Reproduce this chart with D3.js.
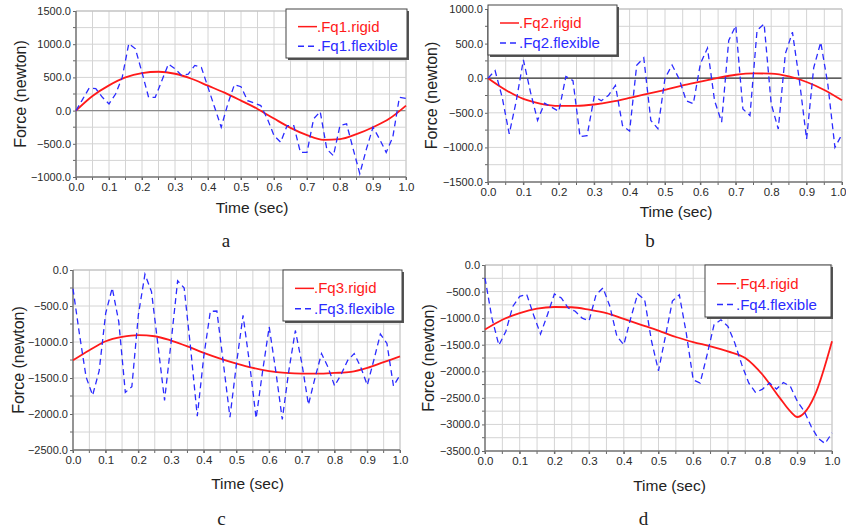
<!DOCTYPE html>
<html>
<head>
<meta charset="utf-8">
<script src="https://cdn.jsdelivr.net/npm/d3@7"></script>
<style>
  body { margin: 0; background: #fff; }
  svg { display: block; font-family: "Liberation Sans", Arial, sans-serif; }
</style>
</head>
<body>
<svg id="chart" width="846" height="531"></svg>
<script>
// time samples of the flexible runs (every 0.02 s)
const tFlex = [0.00, 0.02, 0.04, 0.06, 0.08, 0.10, 0.12, 0.14, 0.16, 0.18,
  0.20, 0.22, 0.24, 0.26, 0.28, 0.30, 0.32, 0.34, 0.36, 0.38,
  0.40, 0.42, 0.44, 0.46, 0.48, 0.50, 0.52, 0.54, 0.56, 0.58,
  0.60, 0.62, 0.64, 0.66, 0.68, 0.70, 0.72, 0.74, 0.76, 0.78,
  0.80, 0.82, 0.84, 0.86, 0.88, 0.90, 0.92, 0.94, 0.96, 0.98, 1.00];

// time samples of the rigid runs
const tRigid = [0.00, 0.05, 0.10, 0.15, 0.20, 0.25, 0.30, 0.35, 0.40, 0.45,
  0.50, 0.55, 0.60, 0.65, 0.70, 0.75, 0.80, 0.85, 0.90, 0.95, 1.00];
const tRigid4 = [0.00, 0.05, 0.10, 0.15, 0.20, 0.25, 0.30, 0.35, 0.40, 0.45,
  0.50, 0.55, 0.60, 0.65, 0.70, 0.75, 0.80, 0.85, 0.88, 0.90, 0.92, 0.95, 1.00];

const fq1Rigid = [0, 220, 380, 500, 565, 585, 555, 480, 375, 270,
  150, 25, -120, -260, -370, -440, -430, -355, -250, -120, 75];
const fq1Flex = [0, 170, 340, 330, 200, 100, 250, 500, 1010, 930,
  575, 200, 200, 450, 700, 630, 530, 550, 680, 650,
  350, 50, -250, 100, 390, 360, 150, 115, 75, -125,
  -375, -475, -225, -225, -630, -630, -125, -15, -580, -680,
  -225, -200, -580, -950, -580, -250, -430, -630, -400, 200, 185];

const fq2Rigid = [0, -170, -300, -370, -400, -400, -380, -340, -285, -225,
  -170, -105, -50, 5, 50, 70, 65, 25, -55, -170, -320];
const fq2Flex = [0, 110, -275, -805, -325, 265, -200, -610, -360, -420,
  -480, 25, -35, -845, -830, -265, -325, -250, -105, -685,
  -765, 185, 295, -610, -730, 0, 190, -10, -325, -370,
  210, 435, -325, -635, 545, 760, -445, -540, 690, 785,
  -370, -735, 355, 665, -45, -880, 150, 520, -90, -1000, -810];

const fq3Rigid = [-1255, -1115, -990, -930, -905, -920, -980, -1060, -1150, -1230,
  -1300, -1360, -1405, -1430, -1440, -1440, -1430, -1415, -1360, -1280, -1200];
const fq3Flex = [-260, -900, -1485, -1740, -1400, -600, -250, -720, -1700, -1620,
  -620, -60, -300, -1050, -1810, -1000, -150, -250, -1100, -2030,
  -1200, -575, -570, -1300, -2045, -1300, -630, -1300, -2060, -1400,
  -790, -1400, -2075, -1400, -840, -1300, -1870, -1500, -1160, -1350,
  -1610, -1450, -1255, -1160, -1350, -1600, -1250, -890, -1020, -1610, -1460];

const fq4Rigid = [-1215, -1030, -905, -820, -790, -795, -840, -905, -1015, -1125,
  -1235, -1355, -1450, -1530, -1625, -1750, -2065, -2505, -2755, -2860,
  -2785, -2460, -1435];
const fq4Flex = [-245, -1000, -1510, -1250, -780, -590, -550, -940, -1300, -935,
  -545, -620, -810, -870, -1000, -1050, -560, -430, -780, -1340,
  -1500, -1000, -545, -650, -1435, -1990, -1340, -680, -560, -1280,
  -2160, -2220, -1690, -1125, -1030, -1155, -1470, -1875, -2220, -2400,
  -2335, -2220, -2335, -2210, -2285, -2565, -2750, -3040, -3260, -3360, -3160];

const xTicks = [0.0, 0.1, 0.2, 0.3, 0.4, 0.5, 0.6, 0.7, 0.8, 0.9, 1.0];

const panels = [
  { name: "Fq1", letter: "a", rigid: fq1Rigid, tr: tRigid, flex: fq1Flex,
    yDomain: [-1000, 1500], box: { x0: 76, x1: 406, y0: 11, y1: 177 },
    zeroColor: "#8a8a8a",
    legend: { x: 286, y: 9, w: 121, h: 49 }, timeY: 213, forceX: 20, letterY: 247 },
  { name: "Fq2", letter: "b", rigid: fq2Rigid, tr: tRigid, flex: fq2Flex,
    yDomain: [-1500, 1000], box: { x0: 488, x1: 842, y0: 9, y1: 182 },
    zeroColor: "#333",
    legend: { x: 488, y: 5, w: 129, h: 50 }, timeY: 217, forceX: 431, letterY: 247 },
  { name: "Fq3", letter: "c", rigid: fq3Rigid, tr: tRigid, flex: fq3Flex,
    yDomain: [-2500, 0], box: { x0: 73, x1: 400, y0: 270, y1: 450 },
    zeroColor: null,
    legend: { x: 283, y: 270, w: 119, h: 51 }, timeY: 489, forceX: 18, letterY: 525 },
  { name: "Fq4", letter: "d", rigid: fq4Rigid, tr: tRigid4, flex: fq4Flex,
    yDomain: [-3500, 0], box: { x0: 485, x1: 832, y0: 265, y1: 451 },
    zeroColor: null,
    legend: { x: 705, y: 265, w: 126, h: 52 }, timeY: 491, forceX: 428, letterY: 525 }
];

const svg = d3.select("#chart");
const fmt = d3.format(".1f");

panels.forEach(drawPanel);

function drawPanel(p) {
  const b = p.box;
  const g = svg.append("g");

  const x = d3.scaleLinear().domain([0, 1]).range([b.x0, b.x1]);
  const y = d3.scaleLinear().domain(p.yDomain).range([b.y1, b.y0]);

  const xGrid = d3.range(0, 1.0001, 0.05);
  const yGrid = d3.range(p.yDomain[0], p.yDomain[1] + 1, 250);
  const yMajor = d3.range(p.yDomain[0], p.yDomain[1] + 1, 500);

  // grid
  g.append("g")
    .selectAll("line")
    .data(xGrid)
    .join("line")
    .attr("x1", (d) => x(d))
    .attr("x2", (d) => x(d))
    .attr("y1", b.y0)
    .attr("y2", b.y1)
    .attr("stroke", "#d4d4d4")
    .attr("stroke-width", 1);

  g.append("g")
    .selectAll("line")
    .data(yGrid)
    .join("line")
    .attr("x1", b.x0)
    .attr("x2", b.x1)
    .attr("y1", (d) => y(d))
    .attr("y2", (d) => y(d))
    .attr("stroke", "#d4d4d4")
    .attr("stroke-width", 1);

  if (p.zeroColor) {
    g.append("line")
      .attr("x1", b.x0)
      .attr("x2", b.x1)
      .attr("y1", y(0))
      .attr("y2", y(0))
      .attr("stroke", p.zeroColor)
      .attr("stroke-width", 1.2);
  }

  // y axis
  const yAxis = g
    .append("g")
    .attr("transform", `translate(${b.x0},0)`)
    .call(d3.axisLeft(y).tickValues(yMajor).tickFormat(fmt).tickSize(3).tickPadding(2))
    .call((s) => s.select(".domain").remove());
  yAxis.selectAll(".tick line").attr("stroke", "#666");
  yAxis
    .selectAll("text")
    .attr("font-size", 11)
    .attr("fill", "#2a2a2a")
    .attr("font-family", "Liberation Sans, Arial, sans-serif");
  g.append("g")
    .selectAll("line")
    .data(yGrid.filter((d) => !yMajor.includes(d)))
    .join("line")
    .attr("x1", b.x0 - 3)
    .attr("x2", b.x0)
    .attr("y1", (d) => y(d))
    .attr("y2", (d) => y(d))
    .attr("stroke", "#666");

  // x axis
  const xAxis = g
    .append("g")
    .attr("transform", `translate(0,${b.y1})`)
    .call(d3.axisBottom(x).tickValues(xTicks).tickFormat(fmt).tickSize(3))
    .call((s) => s.select(".domain").remove());
  xAxis.selectAll(".tick line").attr("stroke", "#666");
  xAxis
    .selectAll("text")
    .attr("font-size", 11.5)
    .attr("fill", "#2a2a2a")
    .attr("font-family", "Liberation Sans, Arial, sans-serif")
    // keep the last label inside the page on the right-hand panel
    .attr("dx", (d) => (d === 1 && b.x1 + 8 > 846 ? 846 - 8 - b.x1 : 0));
  g.append("g")
    .selectAll("line")
    .data(xGrid)
    .join("line")
    .attr("x1", (d) => x(d))
    .attr("x2", (d) => x(d))
    .attr("y1", b.y1)
    .attr("y2", b.y1 + 3)
    .attr("stroke", "#666");

  // frame
  g.append("line")
    .attr("x1", b.x0).attr("x2", b.x1)
    .attr("y1", b.y0).attr("y2", b.y0)
    .attr("stroke", "#bbb");
  g.append("line")
    .attr("x1", b.x1).attr("x2", b.x1)
    .attr("y1", b.y0).attr("y2", b.y1)
    .attr("stroke", "#ccc");
  g.append("line")
    .attr("x1", b.x0).attr("x2", b.x0)
    .attr("y1", b.y0).attr("y2", b.y1)
    .attr("stroke", "#777")
    .attr("stroke-width", 1.5);
  g.append("line")
    .attr("x1", b.x0).attr("x2", b.x1)
    .attr("y1", b.y1).attr("y2", b.y1)
    .attr("stroke", "#777")
    .attr("stroke-width", 1.5);

  // series
  const rigidLine = d3
    .line()
    .x((d, i) => x(p.tr[i]))
    .y((d) => y(d))
    .curve(d3.curveMonotoneX);
  const flexLine = d3
    .line()
    .x((d, i) => x(tFlex[i]))
    .y((d) => y(d));

  g.append("path")
    .datum(p.rigid)
    .attr("d", rigidLine)
    .attr("fill", "none")
    .attr("stroke", "#ff1a1a")
    .attr("stroke-width", 1.8);

  g.append("path")
    .datum(p.flex)
    .attr("d", flexLine)
    .attr("fill", "none")
    .attr("stroke", "#2b2bff")
    .attr("stroke-width", 1.3)
    .attr("stroke-dasharray", "6,4");

  // legend
  const L = p.legend;
  const lg = g.append("g").attr("transform", `translate(${L.x},${L.y})`);
  lg.append("rect")
    .attr("x", 2).attr("y", 2)
    .attr("width", L.w).attr("height", L.h)
    .attr("fill", "#555");
  lg.append("rect")
    .attr("width", L.w).attr("height", L.h)
    .attr("fill", "#fff")
    .attr("stroke", "#444")
    .attr("stroke-width", 1);
  const lx = 12;
  lg.append("line")
    .attr("x1", lx).attr("x2", lx + 19)
    .attr("y1", L.h * 0.36).attr("y2", L.h * 0.36)
    .attr("stroke", "#ff1a1a").attr("stroke-width", 1.5);
  lg.append("text")
    .attr("x", lx + 19).attr("y", L.h * 0.36 + 5)
    .attr("font-size", 15)
    .attr("fill", "#ff1a1a")
    .text(`.${p.name}.rigid`);
  lg.append("line")
    .attr("x1", lx).attr("x2", lx + 19)
    .attr("y1", L.h * 0.76).attr("y2", L.h * 0.76)
    .attr("stroke", "#2b2bff").attr("stroke-width", 1.5)
    .attr("stroke-dasharray", "6,4");
  lg.append("text")
    .attr("x", lx + 19).attr("y", L.h * 0.76 + 5)
    .attr("font-size", 15)
    .attr("fill", "#2b2bff")
    .text(`.${p.name}.flexible`);

  // axis titles
  g.append("text")
    .attr("x", (b.x0 + b.x1) / 2 + 11)
    .attr("y", p.timeY)
    .attr("text-anchor", "middle")
    .attr("font-size", 15.5)
    .attr("fill", "#222")
    .text("Time (sec)");

  g.append("text")
    .attr("transform", `translate(${p.forceX},${(b.y0 + b.y1) / 2}) rotate(-90)`)
    .attr("text-anchor", "middle")
    .attr("dy", "0.35em")
    .attr("font-size", 16)
    .attr("fill", "#222")
    .text("Force (newton)");

  // sub-figure letter
  g.append("text")
    .attr("x", (b.x0 + b.x1) / 2 - 15)
    .attr("y", p.letterY)
    .attr("text-anchor", "middle")
    .attr("font-family", "Liberation Serif, Times New Roman, serif")
    .attr("font-size", 19)
    .attr("fill", "#222")
    .text(p.letter);
}
</script>
</body>
</html>
